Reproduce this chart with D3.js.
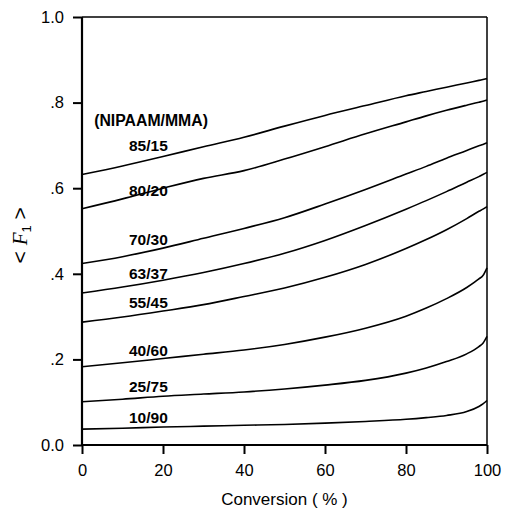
<!DOCTYPE html>
<html><head><meta charset="utf-8">
<script src="https://cdn.jsdelivr.net/npm/d3@7"></script>
<style>body{margin:0;background:#fff}svg{display:block}</style>
</head><body>
<script>
const conversion = [0,10,20,30,40,50,60,70,80,85,90,95,98,99,100];
const seriesNames = ["85/15","80/20","70/30","63/37","55/45","40/60","25/75","10/90"];
const s85_15 = [0.632,0.652,0.674,0.697,0.719,0.745,0.770,0.793,0.816,0.826,0.836,0.846,0.852,0.854,0.856];
const s80_20 = [0.552,0.575,0.600,0.623,0.641,0.668,0.697,0.727,0.755,0.769,0.782,0.794,0.801,0.803,0.806];
const s70_30 = [0.424,0.440,0.460,0.483,0.506,0.531,0.563,0.597,0.633,0.651,0.670,0.688,0.699,0.702,0.706];
const s63_37 = [0.355,0.369,0.385,0.403,0.424,0.448,0.478,0.513,0.551,0.571,0.592,0.614,0.627,0.632,0.637];
const s55_45 = [0.287,0.299,0.313,0.328,0.347,0.367,0.392,0.422,0.459,0.480,0.503,0.529,0.546,0.551,0.557];
const s40_60 = [0.183,0.192,0.202,0.212,0.222,0.235,0.252,0.273,0.301,0.320,0.342,0.368,0.388,0.396,0.414];
const s25_75 = [0.101,0.107,0.114,0.119,0.124,0.131,0.140,0.151,0.168,0.180,0.195,0.213,0.230,0.238,0.254];
const s10_90 = [0.037,0.039,0.042,0.044,0.046,0.048,0.051,0.055,0.060,0.064,0.069,0.078,0.090,0.096,0.104];
const seriesValues = [s85_15,s80_20,s70_30,s63_37,s55_45,s40_60,s25_75,s10_90];
const labelX = 11.6;
const labelY = [0.686,0.581,0.468,0.389,0.320,0.208,0.125,0.051];
const headerText = "(NIPAAM/MMA)";
const headerY = 0.745;
const xTicks = [0,20,40,60,80,100];
const xTickLabels = ["0","20","40","60","80","100"];
const yTicks = [0,0.2,0.4,0.6,0.8,1.0];
const yTickLabels = ["0.0",".2",".4",".6",".8","1.0"];

const W = 506, H = 512;
const svg = d3.select("body").append("svg").attr("width",W).attr("height",H);
const x = d3.scaleLinear().domain([0,100]).range([82,487]);
const y = d3.scaleLinear().domain([0,1]).range([445,17]);
const font = "'Liberation Sans', Arial, Helvetica, sans-serif";

// frame
svg.append("line").attr("x1",x(0)).attr("x2",x(100)).attr("y1",y(1)).attr("y2",y(1)).attr("stroke","#000").attr("stroke-width",1.5);
svg.append("line").attr("x1",x(100)).attr("x2",x(100)).attr("y1",y(1)).attr("y2",y(0)).attr("stroke","#000").attr("stroke-width",1.5);

const xAxis = svg.append("g").attr("transform",`translate(0,${y(0)})`)
  .call(d3.axisBottom(x).tickValues(xTicks).tickFormat((d,i)=>xTickLabels[i]).tickSize(9).tickPadding(10));
const yAxis = svg.append("g").attr("transform",`translate(${x(0)},0)`)
  .call(d3.axisLeft(y).tickValues(yTicks).tickFormat((d,i)=>yTickLabels[i]).tickSize(9).tickPadding(9));
[xAxis,yAxis].forEach(g=>{
  g.select(".domain").attr("stroke","#000").attr("stroke-width",2.2);
  g.selectAll(".tick line").attr("stroke","#000").attr("stroke-width",2);
  g.selectAll("text").attr("font-family",font).attr("font-size",16.5).attr("fill","#000");
});
xAxis.select(".domain").attr("d",`M${x(0)},0H${x(100)}`);
yAxis.select(".domain").attr("d",`M0,${y(0)}V${y(1)}`);

const line = d3.line().x((d,i)=>x(conversion[i])).y(d=>y(d)).curve(d3.curveMonotoneX);
svg.append("g").selectAll("path").data(seriesValues).join("path")
  .attr("d",line).attr("fill","none").attr("stroke","#000").attr("stroke-width",1.6);

svg.append("g").selectAll("text").data(seriesNames).join("text")
  .attr("x",x(labelX)).attr("y",(d,i)=>y(labelY[i]))
  .attr("font-family",font).attr("font-weight","bold").attr("font-size",15.5).text(d=>d);
svg.append("text").attr("x",x(3)).attr("y",y(headerY))
  .attr("font-family",font).attr("font-weight","bold").attr("font-size",15.8).text(headerText);

svg.append("text").attr("x",(x(0)+x(100))/2).attr("y",505).attr("text-anchor","middle")
  .attr("font-family",font).attr("font-size",17).text("Conversion ( % )");

const yt = svg.append("text").attr("transform",`translate(27,${y(0.49)}) rotate(-90)`).attr("text-anchor","middle")
  .attr("font-size",21);
yt.append("tspan").attr("font-family",font).text("< ");
yt.append("tspan").attr("font-family","'Liberation Serif', 'Times New Roman', serif").attr("font-style","italic").text("F");
yt.append("tspan").attr("font-family",font).attr("font-size",13).attr("dy",4).text("1");
yt.append("tspan").attr("font-family",font).attr("dy",-4).text(" >");
</script>
</body></html>
